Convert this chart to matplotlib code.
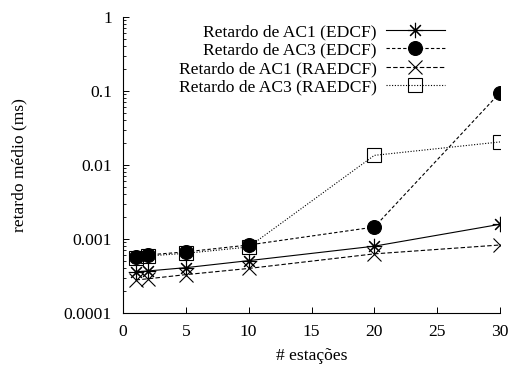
import matplotlib
matplotlib.use("Agg")
import matplotlib.pyplot as plt
from matplotlib.ticker import FixedLocator, LogLocator, NullFormatter

plt.rcParams['font.family'] = ['Liberation Serif', 'DejaVu Serif']

stations = [1, 2, 5, 10, 20, 30]
ac1_edcf = [0.00036, 0.00037, 0.00041, 0.00051, 0.00080, 0.00158]
ac3_edcf = [0.00058, 0.00061, 0.00067, 0.00083, 0.00145, 0.095]
ac1_raedcf = [0.00028, 0.00029, 0.00033, 0.00040, 0.00063, 0.00083]
ac3_raedcf = [0.00056, 0.00059, 0.00064, 0.00078, 0.0135, 0.0205]

labels = ["Retardo de AC1 (EDCF)", "Retardo de AC3 (EDCF)",
          "Retardo de AC1 (RAEDCF)", "Retardo de AC3 (RAEDCF)"]
xticks = [0, 5, 10, 15, 20, 25, 30]
yticks = [0.0001, 0.001, 0.01, 0.1, 1]
ytick_labels = ["0.0001", "0.001", "0.01", "0.1", "1"]

fs = 12.6
fig = plt.figure(figsize=(5.12, 3.66), dpi=100)
ax = fig.add_axes([123/512, 1-313/366, 377/512, (313-17)/366])

lw = 0.8
ax.plot(stations, ac1_edcf, color='black', lw=lw, ls='-', marker=(8, 2, 0),
        ms=11, mew=0.8, label=labels[0])
ax.plot(stations, ac3_edcf, color='black', lw=lw, ls=(0, (3, 2)), marker='o',
        ms=10, mfc='black', mew=0.8, label=labels[1])
ax.plot(stations, ac1_raedcf, color='black', lw=lw, ls=(0, (4, 2)), marker='x',
        ms=10, mew=0.8, label=labels[2])
ax.plot(stations, ac3_raedcf, color='black', lw=lw, ls=(0, (1, 1.5)), marker='s',
        ms=10, mfc='none', mew=0.8, label=labels[3])

ax.set_yscale('log')
ax.set_xlim(0, 30)
ax.set_ylim(0.0001, 1)
ax.xaxis.set_major_locator(FixedLocator(xticks))
ax.set_xticklabels([str(t) for t in xticks])
ax.yaxis.set_major_locator(FixedLocator(yticks))
ax.set_yticklabels(ytick_labels)
ax.yaxis.set_minor_locator(LogLocator(base=10, subs=range(2, 10)))
ax.yaxis.set_minor_formatter(NullFormatter())

for s in ['top', 'right']:
    ax.spines[s].set_visible(False)
for s in ['left', 'bottom']:
    ax.spines[s].set_linewidth(0.8)

ax.tick_params(axis='both', which='major', direction='in', length=4, width=0.7,
               labelsize=fs, pad=8)
ax.tick_params(axis='y', which='minor', direction='in', length=2, width=0.6)

ax.set_xlabel("# estações", fontsize=fs, labelpad=6)
ax.set_ylabel("retardo médio (ms)", fontsize=fs, labelpad=26)

leg = ax.legend(loc='upper right', bbox_to_anchor=(445/512, 1-24/366),
                bbox_transform=fig.transFigure, frameon=False, markerfirst=False,
                fontsize=fs, handlelength=3.4, handletextpad=0.5,
                labelspacing=0.12, borderpad=0, borderaxespad=0)

fig.savefig("out.png", dpi=100)
